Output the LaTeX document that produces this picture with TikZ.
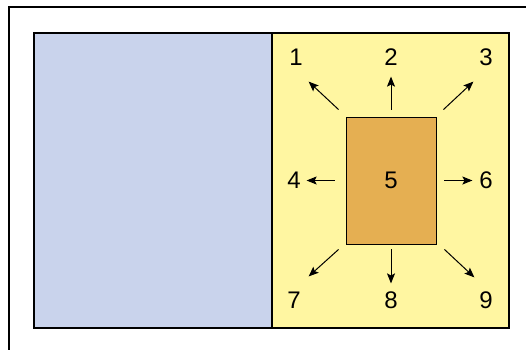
\documentclass[tikz,border=0pt]{standalone}
\usepackage{fontspec}
\setmainfont{Liberation Sans}
\usetikzlibrary{arrows.meta}

\definecolor{paneblue}{RGB}{201,211,236}
\definecolor{paneyellow}{RGB}{255,246,161}
\definecolor{boxorange}{RGB}{229,175,82}

\begin{document}
\begin{tikzpicture}[x=1pt,y=-1pt,
    arr/.style={-{Stealth[length=10pt,width=8pt,inset=2pt]}, line width=1pt},
    lbl/.style={font=\fontsize{24}{28}\selectfont, inner sep=0pt}]
    \useasboundingbox (0,0) rectangle (526,349);
    \clip (0,0) rectangle (526,349);

    % frame and panes
    \draw[line width=1.8pt] (9,400) -- (9,7) -- (600,7);
    \coordinate (A) at (34,33);
    \draw[line width=1.3pt, fill=paneblue] (A) rectangle (272,328) coordinate (B);
    \draw[line width=1.3pt, fill=paneyellow] (272,33) rectangle (509,328);

    \node[lbl, draw, line width=0.8pt, fill=boxorange, minimum width=90pt, minimum height=127pt] (box) at (391,180.5) {5};

    \node[lbl] (n1) at (296,57) {1};
    \node[lbl] (n2) at (391,57) {2};
    \node[lbl] (n3) at (486,57) {3};
    \node[lbl] (n4) at (294,180) {4};
    \node[lbl] (n6) at (486,180) {6};
    \node[lbl] (n7) at (294,300) {7};
    \node[lbl] (n8) at (391,300) {8};
    \node[lbl] (n9) at (486,300) {9};

    \draw[arr] ([shift={(-7,-7)}]box.north west) -- ([shift={(-37,-35)}]box.north west);
    \draw[arr] ([shift={(0,-7)}]box.north) -- ([shift={(0,-40)}]box.north);
    \draw[arr] ([shift={(7,-7)}]box.north east) -- ([shift={(37,-35)}]box.north east);
    \draw[arr] ([shift={(-11,0)}]box.west) -- ([shift={(-39,0)}]box.west);
    \draw[arr] ([shift={(8,0)}]box.east) -- ([shift={(36,0)}]box.east);
    \draw[arr] ([shift={(-7,5)}]box.south west) -- ([shift={(-37,32)}]box.south west);
    \draw[arr] ([shift={(0,5)}]box.south) -- ([shift={(0,39)}]box.south);
    \draw[arr] ([shift={(8,5)}]box.south east) -- ([shift={(38,33)}]box.south east);
\end{tikzpicture}
\end{document}
